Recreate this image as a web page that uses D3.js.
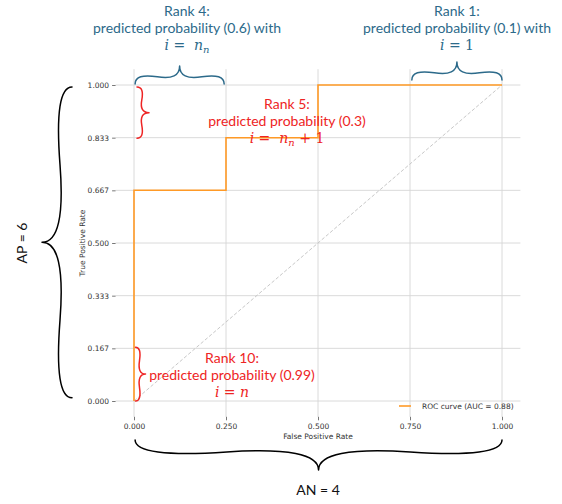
<!DOCTYPE html>
<html>
<head>
<meta charset="utf-8">
<script src="https://cdn.jsdelivr.net/npm/d3@7/dist/d3.min.js"></script>
<style>
  html, body { margin: 0; padding: 0; background: #fff; }
  svg { display: block; }
</style>
</head>
<body>
<svg id="chart" width="562" height="504"></svg>
<script>
// ---- data ----
const fpr = [0, 0, 0.25, 0.25, 0.5, 0.5, 1];
const tpr = [0, 0.667, 0.667, 0.833, 0.833, 1, 1];
const xTicks = [0, 0.25, 0.5, 0.75, 1];
const xTickLabels = ["0.000", "0.250", "0.500", "0.750", "1.000"];
const yTicks = [0, 1/6, 2/6, 3/6, 4/6, 5/6, 1];
const yTickLabels = ["0.000", "0.167", "0.333", "0.500", "0.667", "0.833", "1.000"];
const legendLabel = "ROC curve (AUC = 0.88)";
const xLabel = "False Positive Rate";
const yLabel = "True Positive Rate";

const svg = d3.select("#chart");
const x = d3.scaleLinear().domain([-0.05, 1.05]).range([115.6, 520.4]);
const y = d3.scaleLinear().domain([-0.05, 1.05]).range([416.8, 69.2]);

const tickFont = "'DejaVu Sans', sans-serif";
const annFont = "Lato, 'Open Sans', sans-serif";
const mathFont = "'DejaVu Serif', 'Liberation Serif', serif";
const blue = "#2c6a8a";
const red = "#ee2424";
const orange = "#ff9a26";

// grid
const g = svg.append("g");
g.selectAll(".vg").data(xTicks).join("line")
  .attr("x1", d => x(d)).attr("x2", d => x(d))
  .attr("y1", y.range()[0]).attr("y2", y.range()[1])
  .attr("stroke", "#d6d6d6").attr("stroke-width", 0.9);
g.selectAll(".hg").data(yTicks).join("line")
  .attr("y1", d => y(d)).attr("y2", d => y(d))
  .attr("x1", x.range()[0]).attr("x2", x.range()[1])
  .attr("stroke", "#d6d6d6").attr("stroke-width", 0.9);

// axes
const xAxis = d3.axisBottom(x).tickValues(xTicks)
  .tickFormat((d, i) => xTickLabels[i]).tickSize(3.5).tickPadding(3);
const yAxis = d3.axisLeft(y).tickValues(yTicks)
  .tickFormat((d, i) => yTickLabels[i]).tickSize(3.5).tickPadding(3);
const gx = svg.append("g").attr("transform", `translate(0,${y.range()[0]})`).call(xAxis);
const gy = svg.append("g").attr("transform", `translate(${x.range()[0]},0)`).call(yAxis);
[gx, gy].forEach(a => {
  a.select(".domain").remove();
  a.selectAll(".tick line").attr("stroke", "#555").attr("stroke-width", 0.8);
  a.selectAll(".tick text").attr("fill", "#333").style("font-family", tickFont).style("font-size", "7.5px");
});

svg.append("text").attr("x", x(0.5)).attr("y", 439)
  .attr("text-anchor", "middle").attr("fill", "#333")
  .style("font-family", tickFont).style("font-size", "7.5px").text(xLabel);
svg.append("text").attr("transform", `translate(84.5,${y(0.5)}) rotate(-90)`)
  .attr("text-anchor", "middle").attr("fill", "#333")
  .style("font-family", tickFont).style("font-size", "7.5px").text(yLabel);

// diagonal
svg.append("line")
  .attr("x1", x(0)).attr("y1", y(0)).attr("x2", x(1)).attr("y2", y(1))
  .attr("stroke", "#c8c8c8").attr("stroke-width", 1).attr("stroke-dasharray", "3.5,2");

// ROC line
const pts = fpr.map((f, i) => [f, tpr[i]]);
svg.append("path").datum(pts)
  .attr("d", d3.line().x(d => x(d[0])).y(d => y(d[1])))
  .attr("fill", "none").attr("stroke", orange).attr("stroke-width", 1.6);

// legend
svg.append("line").attr("x1", 399).attr("x2", 411).attr("y1", 406).attr("y2", 406)
  .attr("stroke", orange).attr("stroke-width", 1.6);
svg.append("text").attr("x", 422).attr("y", 408.6).attr("fill", "#333")
  .style("font-family", tickFont).style("font-size", "7.5px").text(legendLabel);

// braces
function brace(x1, y1, x2, y2, w, q) {
  let dx = x1 - x2, dy = y1 - y2;
  const len = Math.sqrt(dx * dx + dy * dy);
  dx /= len; dy /= len;
  const qx1 = x1 + q * w * dy, qy1 = y1 - q * w * dx;
  const qx2 = (x1 - .25 * len * dx) + (1 - q) * w * dy, qy2 = (y1 - .25 * len * dy) - (1 - q) * w * dx;
  const tx1 = (x1 - .5 * len * dx) + w * dy, ty1 = (y1 - .5 * len * dy) - w * dx;
  const qx3 = x2 + q * w * dy, qy3 = y2 - q * w * dx;
  const qx4 = (x1 - .75 * len * dx) + (1 - q) * w * dy, qy4 = (y1 - .75 * len * dy) - (1 - q) * w * dx;
  return `M${x1},${y1} Q${qx1},${qy1} ${qx2},${qy2} T${tx1},${ty1} M${x2},${y2} Q${qx3},${qy3} ${qx4},${qy4} T${tx1},${ty1}`;
}
function drawBrace(x1, y1, x2, y2, w, q, color, sw) {
  svg.append("path").attr("d", brace(x1, y1, x2, y2, w, q))
    .attr("fill", "none").attr("stroke", color).attr("stroke-width", sw)
    .attr("stroke-linecap", "round").attr("stroke-linejoin", "round");
}
// top blue braces (pointing up): go right -> left
drawBrace(x(0.245), 84, x(0.003), 84, 18, 0.6, blue, 1.5);
drawBrace(x(1.0), 80, x(0.755), 80, 18, 0.6, blue, 1.5);
// red braces (pointing right): go bottom -> top
drawBrace(137, y(0.833) + 0.5, 137, y(1) + 2, 12, 0.6, red, 1.5);
drawBrace(135.5, y(0), 135.5, y(0.167) - 1, 10, 0.6, red, 1.5);
// black left brace (pointing left): top -> bottom
drawBrace(72, y(0.994), 72, y(0.01), 30, 0.6, "#000", 1.5);
// black bottom brace (pointing down): left -> right
drawBrace(x(0.003), 440, x(1.0), 440, 30, 0.6, "#000", 1.5);

// annotation text
function label(cx, yb, lines, color, mathLine) {
  lines.forEach((t, i) => {
    svg.append("text").attr("x", cx).attr("y", yb + i * 17.2)
      .attr("text-anchor", "middle").attr("fill", color)
      .style("font-family", annFont).style("font-size", "14px").text(t);
  });
  const m = svg.append("text").attr("x", cx).attr("y", yb + lines.length * 17.2)
    .attr("text-anchor", "middle").attr("fill", color)
    .style("font-family", mathFont).style("font-size", "14px")
    .attr("xml:space", "preserve");
  mathLine.forEach(p => {
    const ts = m.append("tspan").text(p.t);
    if (p.it) ts.style("font-style", "italic");
    if (p.sub) ts.attr("dy", 3).style("font-size", "10px");
    if (p.up) ts.attr("dy", -3);
  });
}
label(187, 15.5, ["Rank 4:", "predicted probability (0.6) with"], blue,
  [{t: "i", it: 1}, {t: " =  "}, {t: "n", it: 1}, {t: "n", it: 1, sub: 1}]);
label(457, 15.5, ["Rank 1:", "predicted probability (0.1) with"], blue,
  [{t: "i", it: 1}, {t: " = 1"}]);
label(287, 109, ["Rank 5:", "predicted probability (0.3)"], red,
  [{t: "i", it: 1}, {t: " =  "}, {t: "n", it: 1}, {t: "n", it: 1, sub: 1}, {t: " + 1", up: 1}]);
label(232, 363, ["Rank 10:", "predicted probability (0.99)"], red,
  [{t: "i", it: 1}, {t: " = "}, {t: "n", it: 1}]);

// AP / AN
svg.append("text").attr("transform", `translate(27,${y(0.5)}) rotate(-90)`)
  .attr("text-anchor", "middle").attr("fill", "#111")
  .style("font-family", annFont).style("font-size", "14px").text("AP = 6");
svg.append("text").attr("x", x(0.5)).attr("y", 495)
  .attr("text-anchor", "middle").attr("fill", "#111")
  .style("font-family", annFont).style("font-size", "14px").text("AN = 4");
</script>
</body>
</html>
